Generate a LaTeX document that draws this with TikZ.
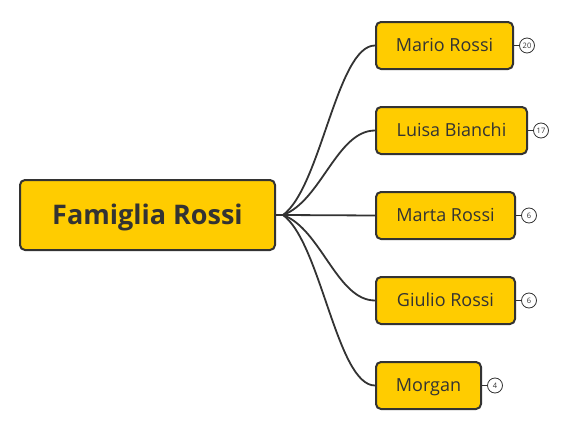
\documentclass[tikz,border=0pt]{standalone}
\usepackage{fontspec}
\setmainfont{Open Sans}
\definecolor{boxfill}{HTML}{FFCC00}
\definecolor{ink}{HTML}{333333}
\begin{document}
\begin{tikzpicture}[x=1pt,y=-1pt,
  rootbox/.style={draw=ink, fill=boxfill, line width=2pt, rounded corners=5pt, text=ink,
    inner sep=0pt, text height=19.3pt, text depth=0pt,
    font=\fontsize{27}{30}\selectfont\bfseries, minimum width=255pt, minimum height=70pt},
  childbox/.style={draw=ink, fill=boxfill, line width=2pt, rounded corners=5pt, text=ink,
    inner sep=0pt, text height=12.9pt, text depth=0pt,
    font=\fontsize{18}{21}\selectfont, minimum height=47pt},
  badge/.style={circle, draw=ink, fill=white, line width=0.8pt, text=ink, inner sep=0pt,
    minimum size=15pt, font=\fontsize{7.5}{8}\selectfont},
  conn/.style={draw=ink, line width=1.8pt},
  bconn/.style={draw=ink, line width=1pt}]
\useasboundingbox (0,0) rectangle (565,439);
\node[rootbox] (root) at (147.5,215) {Famiglia Rossi};
\node[childbox, minimum width=137pt] (c1) at (444.5,45.5) {Mario Rossi};
\node[childbox, minimum width=151pt] (c2) at (451.5,130.5) {Luisa Bianchi};
\node[childbox, minimum width=139pt] (c3) at (445.5,215.5) {Marta Rossi};
\node[childbox, minimum width=139pt] (c4) at (445.5,300.5) {Giulio Rossi};
\node[childbox, minimum width=105pt] (c5) at (428.5,385.5) {Morgan};
\node[badge] (b1) at (527,45.5) {20};
\node[badge] (b2) at (541,130.5) {17};
\node[badge] (b3) at (529,215.5) {6};
\node[badge] (b4) at (529,300.5) {6};
\node[badge] (b5) at (495,385.5) {4};
\coordinate (hub) at (283,215);
\draw[conn] (root.east) -- (hub);
\draw[conn] (hub) .. controls +(38,-28) and +(-38,0) .. (c1.west);
\draw[conn] (hub) .. controls +(38,-14) and +(-38,0) .. (c2.west);
\draw[conn] (hub) -- (c3.west);
\draw[conn] (hub) .. controls +(38,14) and +(-38,0) .. (c4.west);
\draw[conn] (hub) .. controls +(38,28) and +(-38,0) .. (c5.west);
\foreach \i in {1,...,5} {\draw[bconn] (c\i.east) -- (b\i.west);}
\end{tikzpicture}
\end{document}
